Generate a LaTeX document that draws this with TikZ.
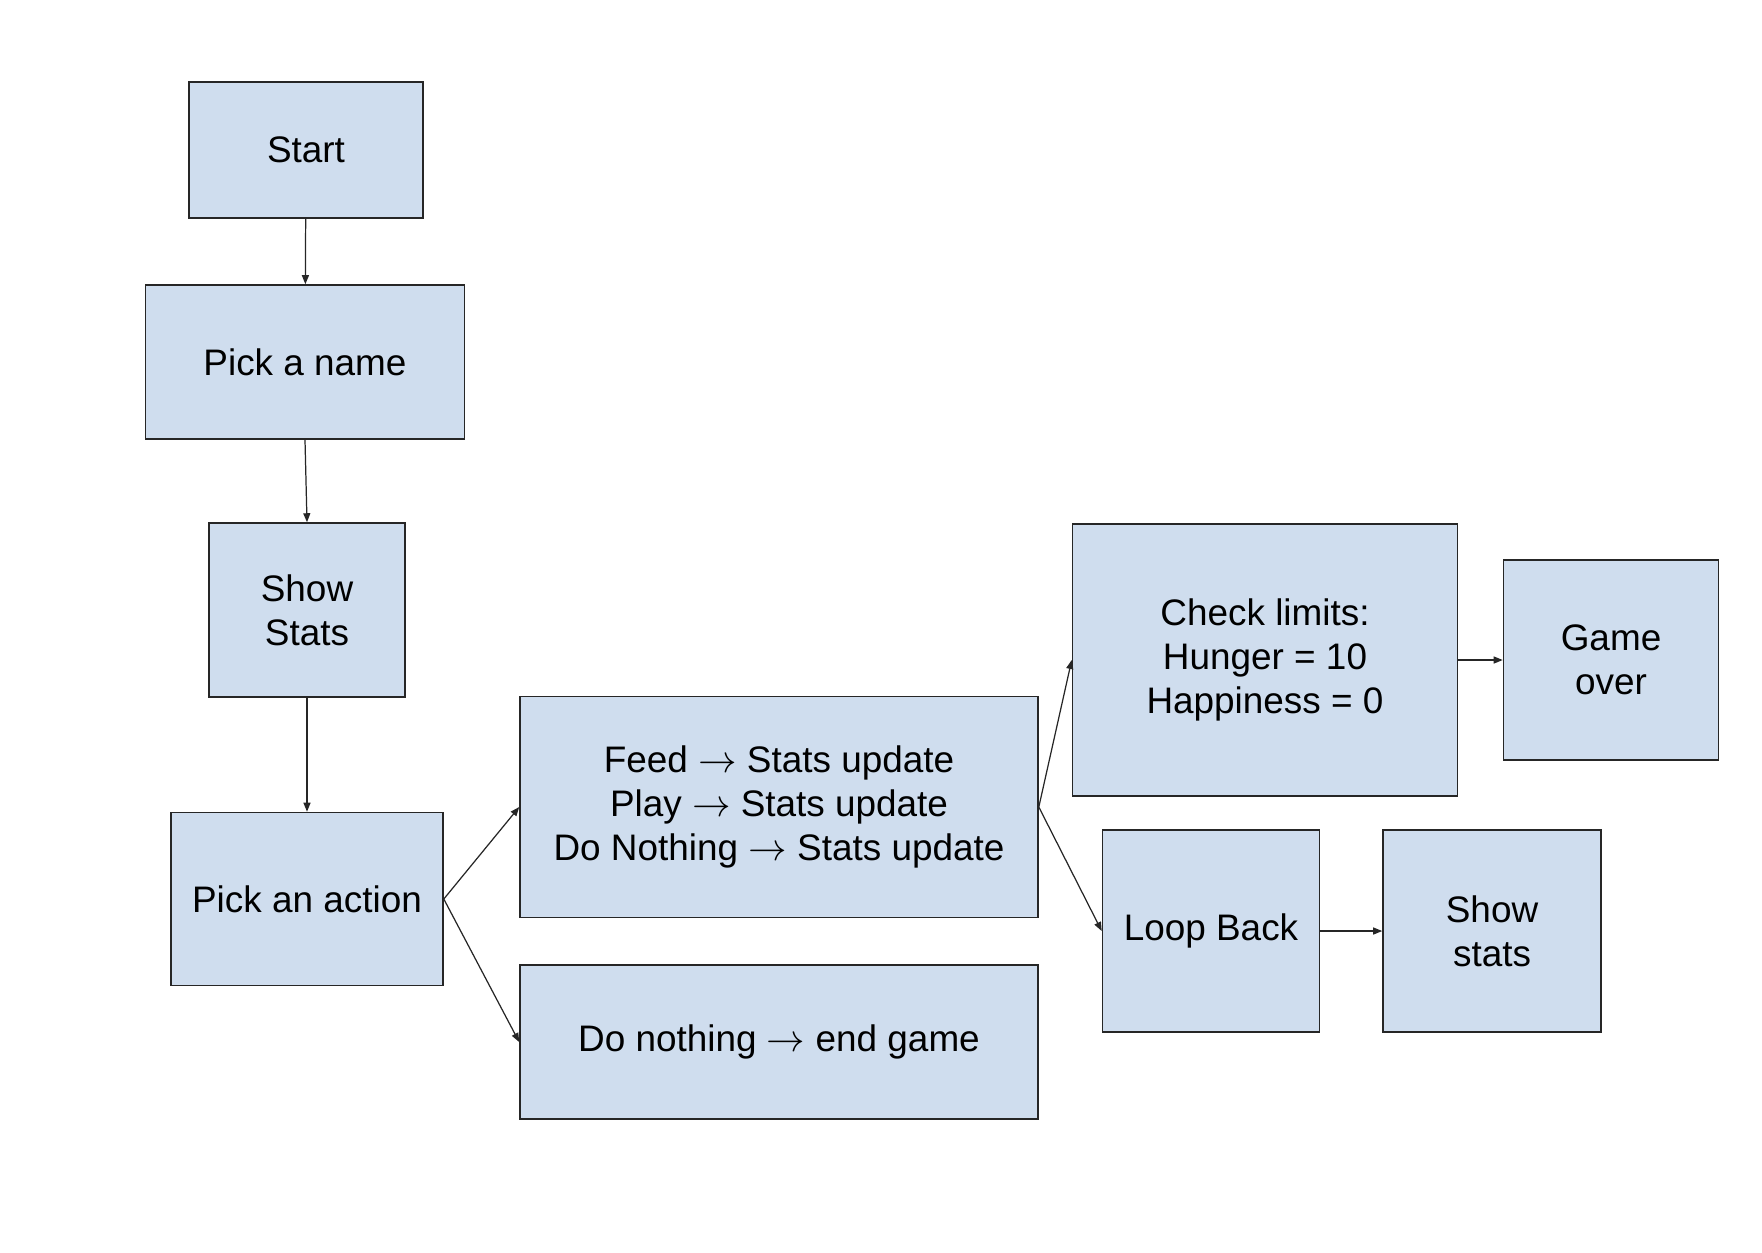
\documentclass[tikz,border=0pt]{standalone}
\usepackage{fontspec}
\setmainfont{Liberation Sans}
\usepackage{xcolor}
\usetikzlibrary{arrows.meta,positioning}
\definecolor{boxblue}{RGB}{207,221,238}

\begin{document}
\begin{tikzpicture}[>={Triangle[length=0.9mm,width=0.7mm]},
 font=\fontsize{10.5}{12.5}\selectfont,
 blk/.style={rectangle,draw=black!85,fill=boxblue,line width=0.45pt,align=center,inner sep=0pt},
 flow/.style={->,line width=0.35pt,black!85}]
\useasboundingbox (0,0) rectangle (17.62,-12.52);
\node[blk,minimum width=2.34cm,minimum height=1.36cm] (start) at (3.06,-1.50) {Start};
\node[blk,minimum width=3.19cm,minimum height=1.54cm] (name) at (3.05,-3.62) {Pick a name};
\node[blk,minimum width=1.96cm,minimum height=1.74cm] (stats) at (3.07,-6.10) {Show\\Stats};
\node[blk,minimum width=2.72cm,minimum height=1.73cm] (action) at (3.07,-8.99) {Pick an action};
\node[blk,minimum width=5.18cm,minimum height=2.21cm] (update) at (7.79,-8.07)
 {Feed $\rightarrow$ Stats update\\Play $\rightarrow$ Stats update\\Do Nothing $\rightarrow$ Stats update};
\node[blk,minimum width=5.18cm,minimum height=1.54cm] (quit) at (7.79,-10.42) {Do nothing $\rightarrow$ end game};
\node[blk,minimum width=3.85cm,minimum height=2.72cm] (limits) at (12.65,-6.60)
 {Check limits:\\Hunger = 10\\Happiness = 0};
\node[blk,minimum width=2.15cm,minimum height=2.00cm] (over) at (16.11,-6.60) {Game\\over};
\node[blk,minimum width=2.17cm,minimum height=2.02cm] (loop) at (12.11,-9.31) {Loop Back};
\node[blk,minimum width=2.18cm,minimum height=2.02cm] (show) at (14.92,-9.31) {Show\\stats};
\draw[flow] (start) -- (name);
\draw[flow] (name.south) -- (stats.north);
\draw[flow] (stats) -- (action);
\draw[flow] (action.east) -- (update.west);
\draw[flow] (action.east) -- (quit.west);
\draw[flow] (update.east) -- (limits.west);
\draw[flow] (update.east) -- (loop.west);
\draw[flow] (limits) -- (over);
\draw[flow] (loop) -- (show);
\end{tikzpicture}
\end{document}
